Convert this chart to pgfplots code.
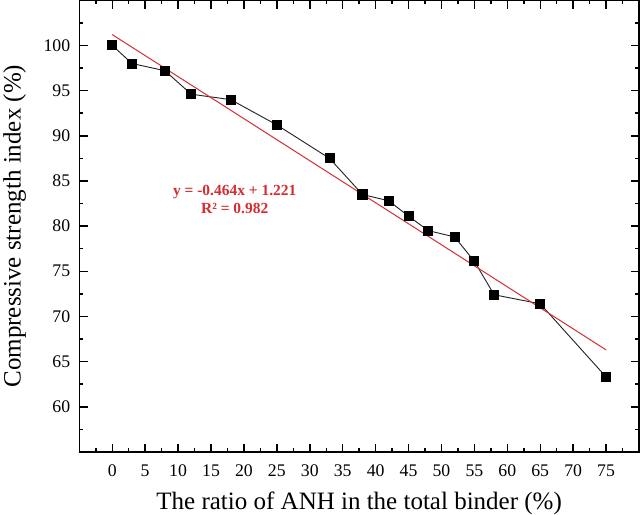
\documentclass[border=0pt]{standalone}
\usepackage{fontspec}
\setmainfont{Liberation Serif}
\usepackage{pgfplots}
\pgfplotsset{compat=1.18}
\usetikzlibrary{calc}
\definecolor{fitred}{RGB}{214,45,50}
\begin{document}
\begin{tikzpicture}
\begin{axis}[name=ax, scale only axis, width=419.8pt, height=338.8pt,
  xmin=-5, xmax=80, ymin=55, ymax=105,
  xtick={0,5,...,75}, ytick={60,65,...,100},
  minor xtick={-2.5,2.5,...,77.5}, minor ytick={57.5,62.5,...,102.5},
  tick align=inside, major tick length=6.2pt, minor tick length=3pt,
  every tick/.style={black, line width=1.1pt},
  axis line style={line width=1.1pt},
  /pgf/number format/assume math mode=true,
  ticklabel style={font=\fontsize{13.3pt}{15pt}\selectfont},
  xticklabel style={anchor=base, yshift=-18.75pt},
  yticklabel style={anchor=east, xshift=-3.35pt},
  clip=false]
\addplot[black!85, line width=0.7pt, mark=square*, mark size=3.4pt, mark options={solid, fill=black, draw=black}] coordinates {
(0,100) (3,98) (8,97.2) (12,94.6) (18,94.0) (25,91.2) (33,87.5) (38,83.5) (42,82.8) (45,81.1) (48,79.5) (52,78.8) (55,76.1) (58,72.4) (65,71.4) (75,63.3)
};
\addplot[fitred, line width=0.75pt] coordinates {(0,101.2) (75,66.3)};
\node[anchor=base, text=fitred, font=\fontsize{11.6pt}{13pt}\selectfont\bfseries] at (axis cs:18.6,83.4) {y = -0.464x + 1.221};
\node[anchor=base, text=fitred, font=\fontsize{11.6pt}{13pt}\selectfont\bfseries] at (axis cs:18.6,81.45) {R² = 0.982};
\end{axis}
\node[anchor=base, font=\fontsize{18.75pt}{22pt}\selectfont] at ($(ax.south)+(0,-43.3pt)$) {The ratio of ANH in the total binder (\%)};
\node[anchor=base, rotate=90, font=\fontsize{18.75pt}{22pt}\selectfont] at ($(ax.west)+(-44.1pt,0)$) {Compressive strength index (\%)};
\pgfresetboundingbox
\path ($(ax.south west)+(-59.5pt,-46.7pt)$) rectangle ($(ax.north east)+(0.75pt,0.2pt)$);
\end{tikzpicture}
\end{document}
